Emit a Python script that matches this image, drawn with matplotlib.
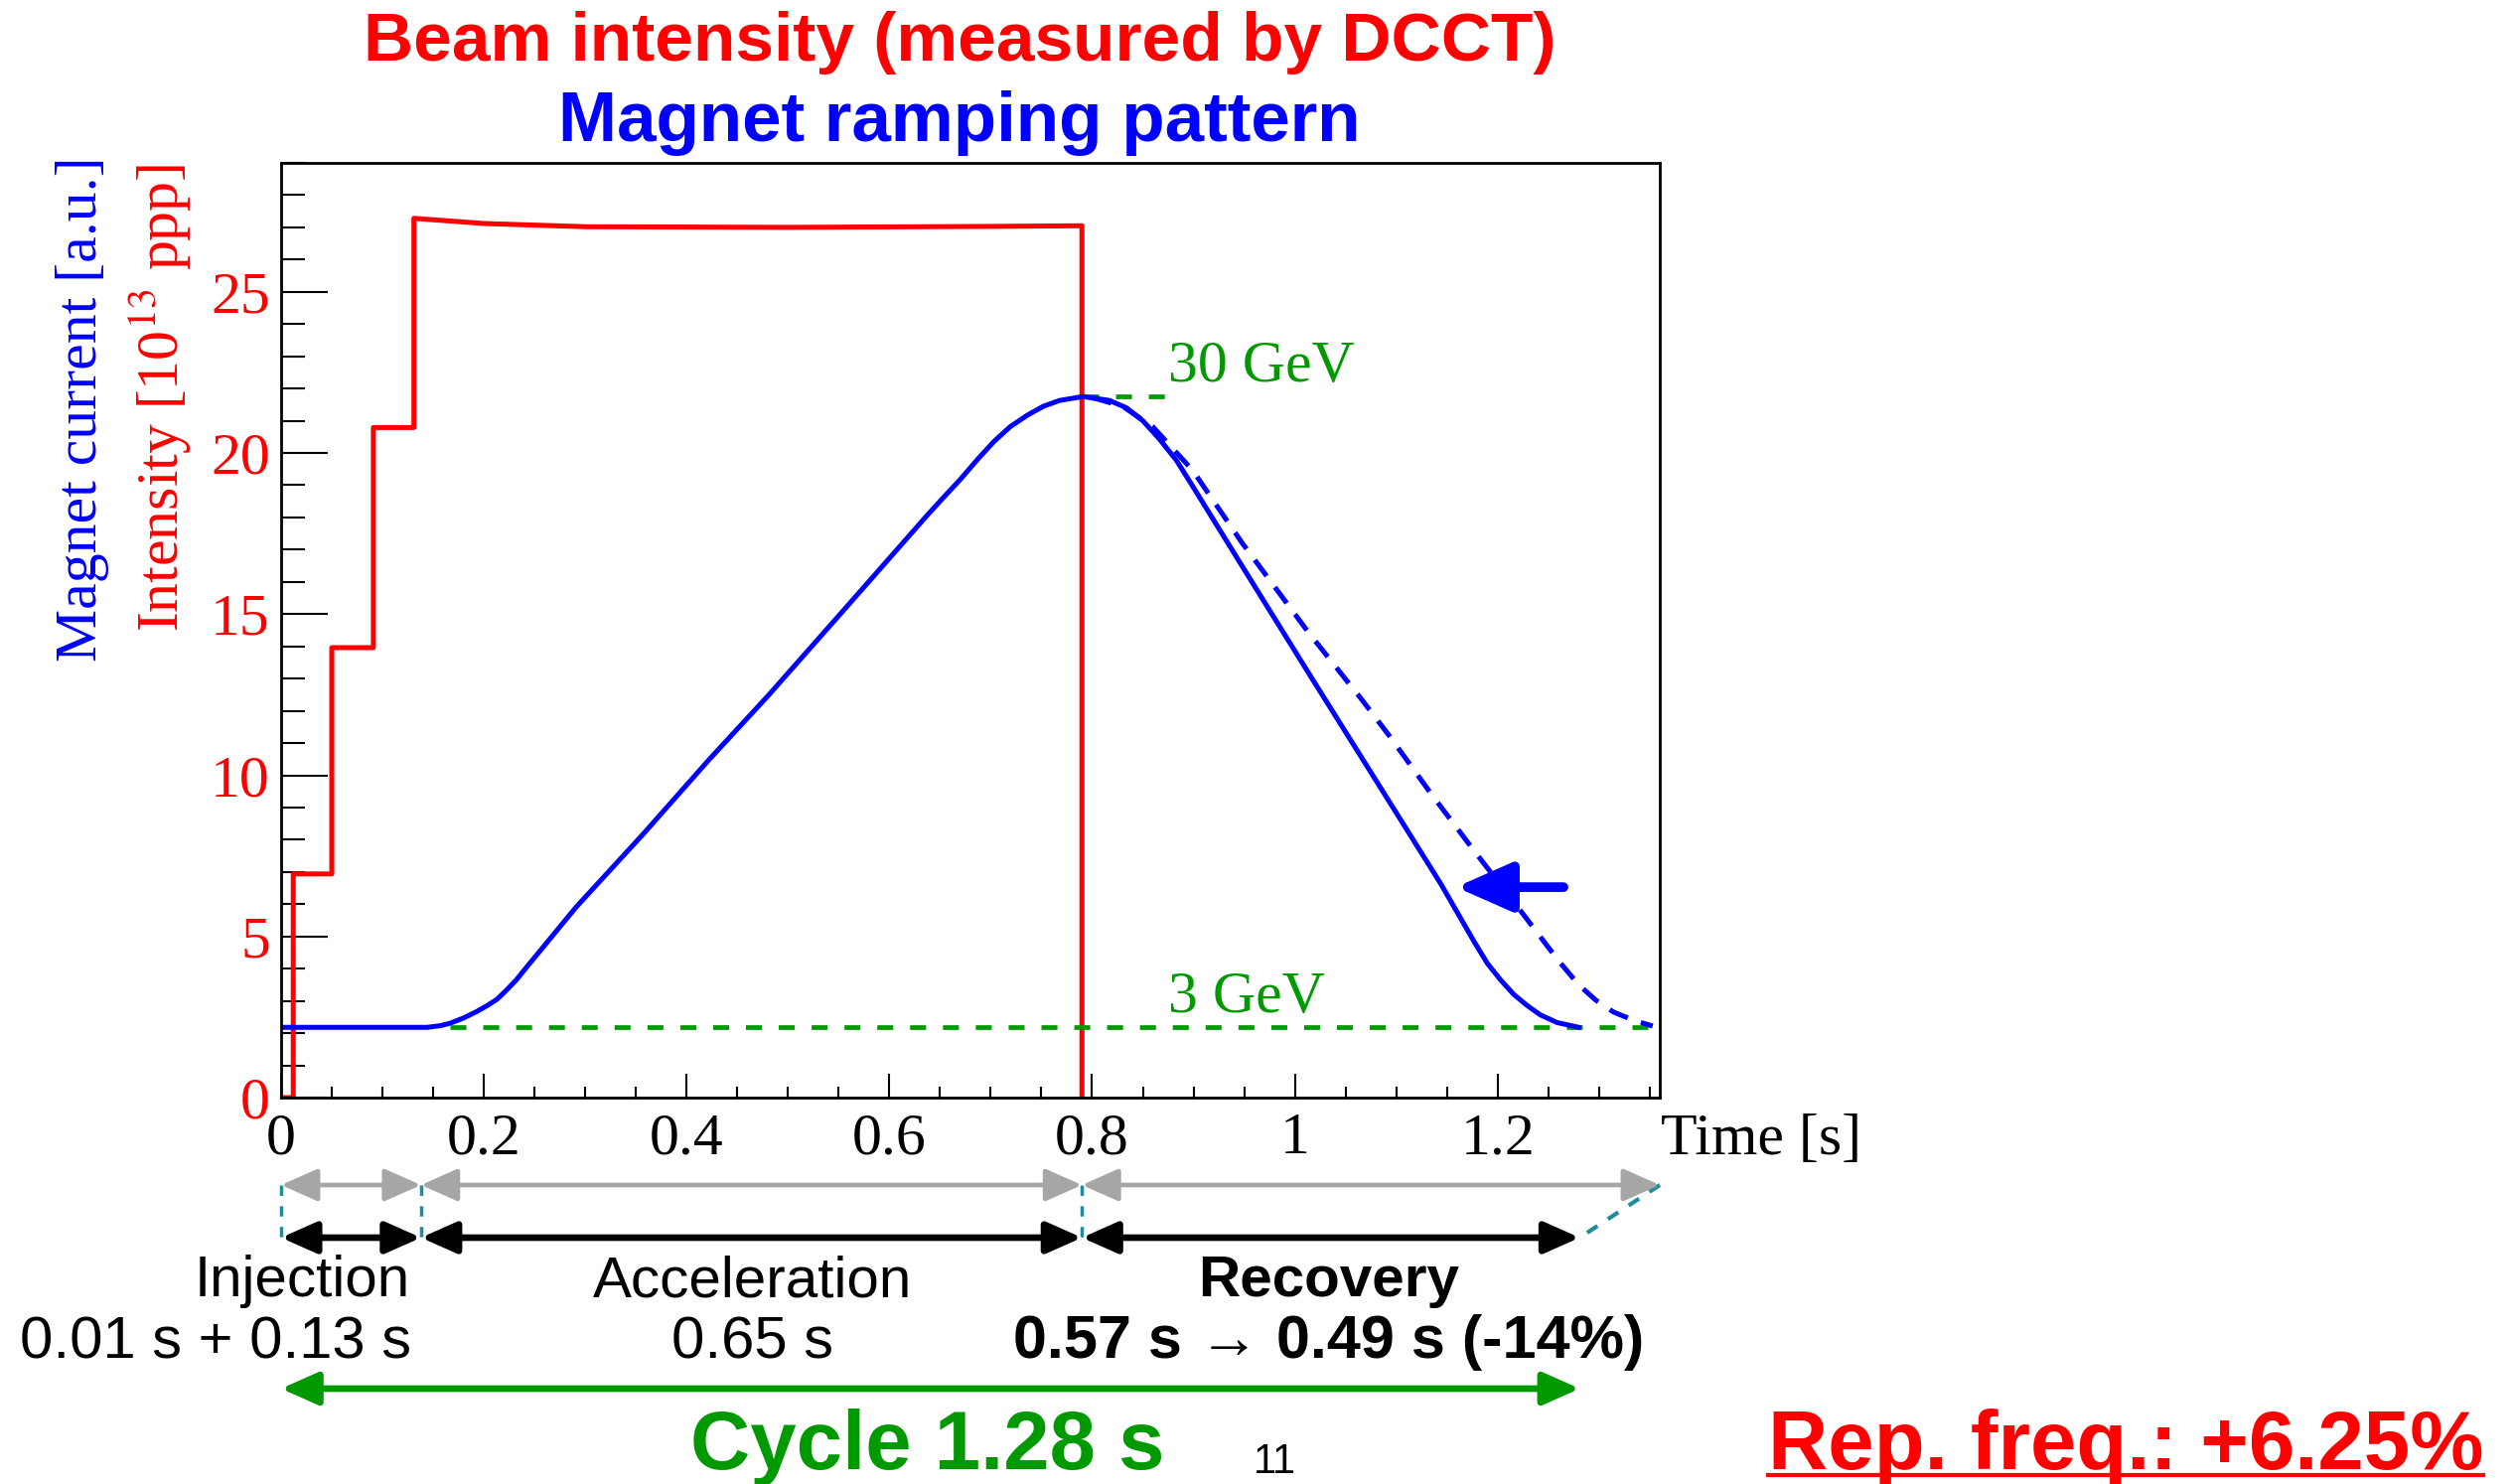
import matplotlib
matplotlib.use("Agg")
import matplotlib.pyplot as plt
import matplotlib.transforms as mtransforms
from matplotlib.lines import Line2D
from matplotlib.ticker import MultipleLocator, FixedLocator

# beam intensity (DCCT), step-like injection of 4 batches
beam_t = [0.0, 0.012, 0.012, 0.050, 0.050, 0.091, 0.091, 0.131, 0.131, 0.20, 0.30, 0.50, 0.70, 0.790, 0.790]
beam_i = [0.0, 0.0, 6.94, 6.94, 13.96, 13.96, 20.79, 20.79, 27.28, 27.12, 27.02, 27.0, 27.03, 27.05, 0.0]

# magnet current, new pattern (solid)
mag_t = [0.0, 0.144, 0.157, 0.167, 0.180, 0.193, 0.203, 0.213, 0.2225, 0.232, 0.242, 0.252, 0.2716,
         0.291, 0.357, 0.422, 0.481, 0.556, 0.638, 0.654, 0.670, 0.687, 0.703, 0.719, 0.736,
         0.752, 0.768, 0.791, 0.817, 0.834, 0.850, 0.866, 0.883, 0.900, 0.948, 1.013, 1.095,
         1.144, 1.177, 1.190, 1.203, 1.216, 1.229, 1.242, 1.2585, 1.280]
mag_i = [2.18, 2.18, 2.23, 2.31, 2.47, 2.67, 2.85, 3.05, 3.34, 3.65, 4.04, 4.42, 5.17,
         5.91, 8.17, 10.48, 12.49, 15.16, 18.09, 18.64, 19.18, 19.80, 20.35, 20.81, 21.17,
         21.45, 21.63, 21.75, 21.63, 21.40, 21.00, 20.45, 19.78, 18.93, 16.49, 13.20, 9.09,
         6.63, 4.83, 4.16, 3.65, 3.20, 2.86, 2.57, 2.33, 2.18]

# magnet current, old recovery (dashed)
old_t = [0.800, 0.830, 0.860, 0.899, 0.948, 1.013, 1.066, 1.095, 1.135, 1.177, 1.225, 1.260, 1.280,
         1.297, 1.314, 1.334, 1.353]
old_i = [21.72, 21.45, 20.81, 19.47, 17.21, 14.45, 12.35, 11.15, 9.40, 7.65, 5.70, 4.25, 3.50,
         3.02, 2.66, 2.40, 2.22]

flat_level = 2.18
top_level = 21.75
flat_line_t = [0.167, 1.355]
top_line_t = [0.791, 0.872]

# cycle phases [s]
old_edges = [0.0, 0.138, 0.79, 1.36]
new_edges = [0.0, 0.138, 0.79, 1.281]

W, H = 2534, 1494


def fx(x):
    return x / W


def fy(y):
    return 1 - y / H


SERIF = ["Liberation Serif", "DejaVu Serif"]
SANS = ["Liberation Sans", "DejaVu Sans"]
plt.rcParams["font.family"] = SERIF
plt.rcParams["mathtext.fontset"] = "stix"

RED = "#ff0000"
BLUE = "#0000ff"
GREEN = "#009a00"
GRAY = "#a5a7a5"
TEAL = "#1f8c9e"

fig = plt.figure(figsize=(W / 100, H / 100), dpi=100)
ax = fig.add_axes([fx(283), fy(1105), (1671 - 283) / W, (1105 - 164) / H])

ax.plot(beam_t, beam_i, color=RED, lw=3.6)
ax.plot(flat_line_t, [flat_level, flat_level], color=GREEN, lw=3.4, dashes=(3.4, 3.6))
ax.plot(top_line_t, [top_level, top_level], color=GREEN, lw=3.4, dashes=(3.4, 3.6))
ax.plot(old_t, old_i, color=BLUE, lw=3.6, dashes=(4.0, 2.8))
ax.plot(mag_t, mag_i, color=BLUE, lw=3.6)

ax.annotate("", xy=(1.159, 6.53), xytext=(1.265, 6.53),
            arrowprops=dict(arrowstyle="-|>,head_length=34,head_width=15", mutation_scale=1,
                            lw=7, color=BLUE, shrinkA=0, shrinkB=0))

ax.text(0.8745, 22.22, "30 GeV", color=GREEN, fontsize=43, va="baseline")
ax.text(0.8745, 2.65, "3 GeV", color=GREEN, fontsize=43, va="baseline")

ax.set_xlim(0, 1.36)
ax.set_ylim(0, 29)
ax.xaxis.set_major_locator(FixedLocator([0, 0.2, 0.4, 0.6, 0.8, 1.0, 1.2]))
ax.set_xticklabels(["0", "0.2", "0.4", "0.6", "0.8", "1", "1.2"])
ax.xaxis.set_minor_locator(MultipleLocator(0.05))
ax.yaxis.set_major_locator(MultipleLocator(5))
ax.yaxis.set_minor_locator(MultipleLocator(1))
ax.tick_params(axis="x", which="major", direction="in", length=17, width=1.5, labelsize=43, pad=11)
ax.tick_params(axis="x", which="minor", direction="in", length=8, width=1.5)
ax.tick_params(axis="y", which="major", direction="in", length=34, width=1.5, labelsize=43,
               labelcolor=RED, pad=8)
ax.tick_params(axis="y", which="minor", direction="in", length=17, width=1.5)
for s in ax.spines.values():
    s.set_linewidth(2)

fig.text(fx(1672), fy(1162), "Time [s]", fontsize=43, va="baseline", ha="left")
fig.text(fx(83), fy(158), "Magnet current [a.u.]", color=BLUE, fontsize=43,
         rotation=90, ha="center", va="top")
fig.text(fx(160), fy(165), "Intensity [10$^{13}$ ppp]", color=RED, fontsize=43,
         rotation=90, ha="center", va="top")

fig.text(fx(966), fy(61), "Beam intensity (measured by DCCT)", color=RED, fontsize=50,
         fontweight="bold", family=SANS, ha="center", va="baseline")
fig.text(fx(966), fy(142), "Magnet ramping pattern", color=BLUE, fontsize=51,
         fontweight="bold", family=SANS, ha="center", va="baseline")

# phase arrows below the axis: x in data, y in figure
trans = mtransforms.blended_transform_factory(ax.transData, fig.transFigure)
y_old, y_new, y_cyc = fy(1193), fy(1246), fy(1398)
head = "<|-|>,head_length=0.45,head_width=0.2"

for a, b in zip(old_edges[:-1], old_edges[1:]):
    ax.annotate("", xy=(b, y_old), xytext=(a, y_old), xycoords=trans, textcoords=trans,
                annotation_clip=False,
                arrowprops=dict(arrowstyle=head, mutation_scale=50,
                                lw=3.4, color=GRAY, shrinkA=0, shrinkB=0))
for a, b in zip(new_edges[:-1], new_edges[1:]):
    ax.annotate("", xy=(b, y_new), xytext=(a, y_new), xycoords=trans, textcoords=trans,
                annotation_clip=False,
                arrowprops=dict(arrowstyle=head, mutation_scale=48,
                                lw=4.8, color="black", shrinkA=0, shrinkB=0))
for e in old_edges[:-1]:
    ax.add_line(Line2D([e, e], [y_old, y_new], transform=trans, color=TEAL, lw=2.5,
                       dashes=(3, 3), clip_on=False))
ax.add_line(Line2D([old_edges[-1], new_edges[-1]], [y_old, y_new], transform=trans, color=TEAL,
                   lw=3, dashes=(3, 3), clip_on=False))

ax.annotate("", xy=(new_edges[-1], y_cyc), xytext=(new_edges[0], y_cyc), xycoords=trans,
            textcoords=trans, annotation_clip=False,
            arrowprops=dict(arrowstyle=head, mutation_scale=50,
                            lw=4.8, color=GREEN, shrinkA=0, shrinkB=0))

fig.text(fx(304), fy(1305), "Injection", fontsize=42, family=SANS, ha="center", va="baseline")
fig.text(fx(217), fy(1367), "0.01 s + 0.13 s", fontsize=43, family=SANS, ha="center", va="baseline")
fig.text(fx(758), fy(1305), "Acceleration", fontsize=42, family=SANS, ha="center", va="baseline")
fig.text(fx(758), fy(1367), "0.65 s", fontsize=43, family=SANS, ha="center", va="baseline")
fig.text(fx(1338), fy(1305), "Recovery", fontsize=42, family=SANS, fontweight="bold",
         ha="center", va="baseline")
fig.text(fx(1338), fy(1367), "0.57 s \u2192 0.49 s (-14%)", fontsize=44, family=SANS,
         fontweight="bold", ha="center", va="baseline")

fig.text(fx(934), fy(1479), "Cycle 1.28 s", color=GREEN, fontsize=60, family=SANS,
         fontweight="bold", ha="center", va="baseline")
rep = fig.text(fx(2140), fy(1479), "Rep. freq.: +6.25%", color=RED, fontsize=60, family=SANS,
               fontweight="bold", ha="center", va="baseline")
fig.text(fx(1283), fy(1492), "11", fontsize=30, family=SANS, ha="center", va="bottom")

fig.canvas.draw()
bb = rep.get_window_extent().transformed(fig.transFigure.inverted())
fig.add_artist(Line2D([bb.x0, bb.x1], [fy(1485), fy(1485)], transform=fig.transFigure,
                      color=RED, lw=3))

fig.savefig("out.png", dpi=100)
